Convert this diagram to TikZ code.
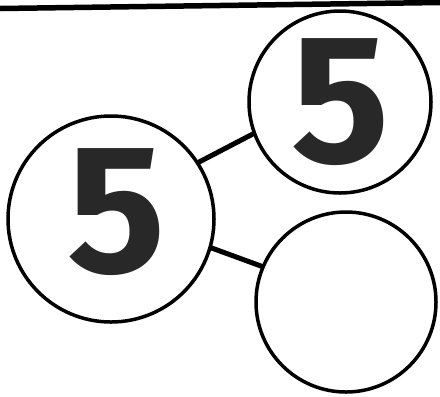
\documentclass[tikz,border=0pt]{standalone}
\usepackage{fontspec}
\newfontfamily\digitfont{Fira Sans}
\usepackage{tikz}
\usetikzlibrary{positioning}
\definecolor{DigitGray}{RGB}{40,40,40}
\begin{document}
\begin{tikzpicture}[x=1bp,y=-1bp,
  bubble/.style={circle,draw,line width=3.5bp,inner sep=0pt,outer sep=0pt},
  digit/.style={text=DigitGray,inner sep=0pt,font=\digitfont\bfseries\fontsize{184}{184}\selectfont},
  link/.style={line width=5bp}]
  \useasboundingbox (0,0) rectangle (440,396);
  % rule along the top edge
  \draw[line width=5.5bp] (0,8.5)--(440,2.5);
  \node[bubble,minimum size=206bp] (wholeFive) at (111,219) {};
  \node[bubble,minimum size=182bp] (partTop) at (340,102) {};
  \node[bubble,minimum size=180bp] (partBottom) at (346,302) {};
  \node[digit] (wholeDigit) at ([shift={(6,-7)}]wholeFive.center) {5};
  \node[digit] (topDigit) at ([shift={(1,0)}]partTop.center) {5};
  \draw[link] (wholeFive.33)--(partTop.200);
  \draw[link] (wholeFive.-16)--(partBottom.157);
\end{tikzpicture}
\end{document}
